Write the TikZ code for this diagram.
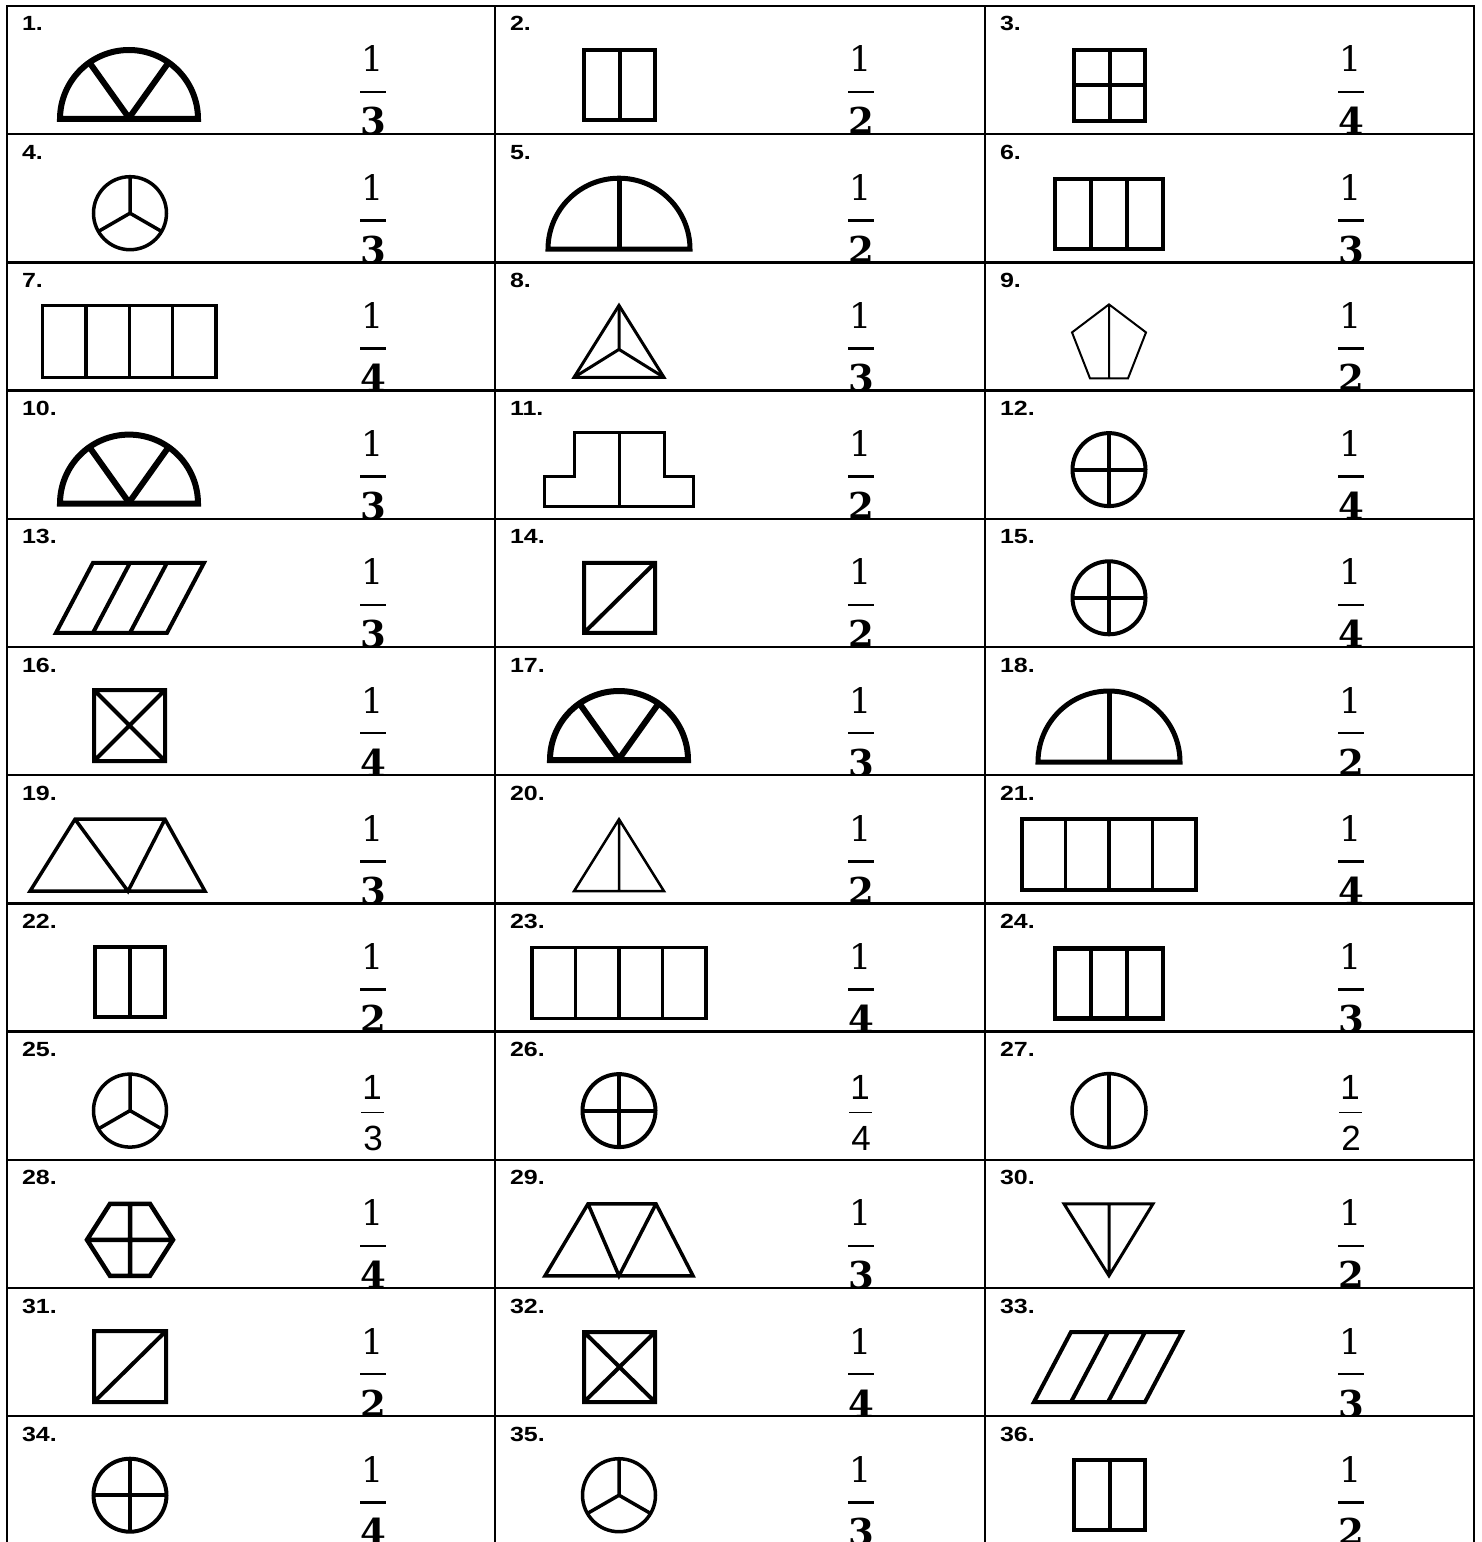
\documentclass[tikz,border=0pt]{standalone}
\usepackage{fontspec}
\setmainfont{Liberation Sans}
\newfontfamily\fracfont{DejaVu Serif}
\tikzset{
  x=1bp, y=-1bp,
  every node/.style={inner sep=0pt, outer sep=0pt},
  lbl/.style={anchor=base west, xscale=1.22, font=\fontsize{20.5bp}{24bp}\selectfont\bfseries},
  numB/.style={anchor=base, font=\fontsize{35bp}{40bp}\selectfont\fracfont},
  denB/.style={anchor=base, font=\fontsize{37bp}{40bp}\selectfont\fracfont\bfseries},
  numA/.style={anchor=base, font=\fontsize{35bp}{40bp}\selectfont},
  gridline/.style={line width=2.5bp, line cap=rect},
}
% ---------- shapes (cell-relative coordinates) ----------
\newcommand\SemiV[2]{\begin{scope}[shift={(#1,#2)}]
  \draw[line width=6bp] (-69,0) arc[start angle=180,end angle=360,radius=69] -- cycle;
  \draw[line width=6bp, line join=bevel] (-125:69) -- (0,-1) -- (-55:69);
\end{scope}}
\newcommand\SemiL[3]{\begin{scope}[shift={(#1,#2)}]
  \draw[line width=5bp] (-#3,0) arc[start angle=180,end angle=360,radius=#3] -- cycle;
  \draw[line width=5bp] (0,0) -- (0,-#3);
\end{scope}}
\newcommand\RectD[6]{\draw[line width=#5bp] (#1,#2) rectangle (#3,#4);
  \foreach \xx in {#6} \draw[line width=#5bp] (\xx,#2) -- (\xx,#4);}
\newcommand\GridF{\draw[line width=4bp] (89,44) rectangle (160,115)
  (124.5,44) -- (124.5,115) (89,79.5) -- (160,79.5);}
\newcommand\CircY[3]{\begin{scope}[shift={(#1,#2)}]
  \draw[line width=3.5bp] (0,0) circle[radius=#3];
  \draw[line width=3.5bp] (0,0) -- (-90:#3) (0,0) -- (150:#3) (0,0) -- (30:#3);
\end{scope}}
\newcommand\CircP[3]{\begin{scope}[shift={(#1,#2)}]
  \draw[line width=4bp] (0,0) circle[radius=#3];
  \draw[line width=4bp] (-#3,0) -- (#3,0) (0,-#3) -- (0,#3);
\end{scope}}
\newcommand\CircI[3]{\begin{scope}[shift={(#1,#2)}]
  \draw[line width=3.5bp] (0,0) circle[radius=#3];
  \draw[line width=3.5bp] (0,-#3) -- (0,#3);
\end{scope}}
\newcommand\TriC{\draw[line width=3bp] (124,43) -- (169,115) -- (79,115) -- cycle;
  \draw[line width=3bp] (124,43) -- (124,87) (79,115) -- (124,87) -- (169,115);}
\newcommand\Pent{\draw[line width=2bp] (124,42) -- (161,70) -- (143,116) -- (105,116) -- (87,70) -- cycle
  (124,42) -- (124,116);}
\newcommand\StepS{\draw[line width=3bp] (79,42) -- (169,42) -- (169,86) -- (198,86) -- (198,116)
  -- (49,116) -- (49,86) -- (79,86) -- cycle (124,42) -- (124,116);}
\newcommand\Para{\draw[line width=4bp] (49,114) -- (86,44) -- (197,44) -- (160,114) -- cycle
  (86,114) -- (123,44) (123,114) -- (160,44);}
\newcommand\SqD[4]{\draw[line width=4bp] (#1,#2) rectangle (#3,#4) (#1,#4) -- (#3,#2);}
\newcommand\SqX[4]{\draw[line width=4bp] (#1,#2) rectangle (#3,#4) (#1,#4) -- (#3,#2) (#1,#2) -- (#3,#4);}
% trapezoid of three triangles: bottom-left, top-left, top-right, bottom-right, bottom-middle x
\newcommand\Trap[5]{\draw[line width=3.5bp] (#1,116) -- (#2,44) -- (#3,44) -- (#4,116) -- cycle
  (#2,44) -- (#5,116) -- (#3,44);}
\newcommand\TriV{\draw[line width=2.5bp] (124,44) -- (169,116) -- (79,116) -- cycle (124,44) -- (124,116);}
\newcommand\Hex{\draw[line width=4.5bp] (103,44) -- (143,44) -- (166,80) -- (143,116) -- (103,116) -- (80,80) -- cycle
  (123,44) -- (123,116) (80,80) -- (166,80);}
\newcommand\TriInv{\draw[line width=3bp] (79,44) -- (168,44) -- (124,116) -- cycle (124,44) -- (124,116);}
% ---------- fractions ----------
\newcommand\FracB[2]{%
  \node[numB] (num#1) at (366,66) {1};
  \fill (353,84.7) rectangle (379,87.4);
  \node[denB] (den#1) at (366,129) {#2};}
\newcommand\FracA[2]{%
  \node[numA] (num#1) at (365,68) {1};
  \fill (354,80.2) rectangle (377,81.4);
  \node[numA] (den#1) at (366,119) {#2};}
% ---------- one cell ----------
\newcommand\Cell[6]{%
  \begin{scope}[shift={(#1,#2)}]
    \begin{scope}
      \clip (0,0) rectangle (490,128.2);
      \node[lbl] (lab#3) at (15,25) {#3.};
      #4
      #5{#3}{#6}
    \end{scope}
  \end{scope}}
\begin{document}
\begin{tikzpicture}
\useasboundingbox (0,0) rectangle (1482,1542);
\fill[white] (0,0) rectangle (1482,1542);
% row 1
\Cell{7}{6}{1}{\SemiV{122}{113}}{\FracB}{3}
\Cell{495}{6}{2}{\RectD{89}{44}{160}{114}{4}{124.5}}{\FracB}{2}
\Cell{985}{6}{3}{\GridF}{\FracB}{4}
% row 2
\Cell{7}{134.2}{4}{\CircY{123}{79}{36.5}}{\FracB}{3}
\Cell{495}{134.2}{5}{\SemiL{124}{115}{71}}{\FracB}{2}
\Cell{985}{134.2}{6}{\RectD{70}{45}{178}{115}{4.5}{106,142}}{\FracB}{3}
% row 3
\Cell{7}{262.4}{7}{\RectD{35.5}{43}{209}{115}{3.5}{78.9,122.3,165.6}}{\FracB}{4}
\Cell{495}{262.4}{8}{\TriC}{\FracB}{3}
\Cell{985}{262.4}{9}{\Pent}{\FracB}{2}
% row 4
\Cell{7}{390.6}{10}{\SemiV{122}{113}}{\FracB}{3}
\Cell{495}{390.6}{11}{\StepS}{\FracB}{2}
\Cell{985}{390.6}{12}{\CircP{124}{79}{36.5}}{\FracB}{4}
% row 5
\Cell{7}{518.8}{13}{\Para}{\FracB}{3}
\Cell{495}{518.8}{14}{\SqD{89}{44}{160}{114}}{\FracB}{2}
\Cell{985}{518.8}{15}{\CircP{124}{79}{36.5}}{\FracB}{4}
% row 6
\Cell{7}{647}{16}{\SqX{87}{43}{158}{114}}{\FracB}{4}
\Cell{495}{647}{17}{\SemiV{124}{113}}{\FracB}{3}
\Cell{985}{647}{18}{\SemiL{124}{115}{71}}{\FracB}{2}
% row 7
\Cell{7}{775.2}{19}{\Trap{23}{68}{158}{198}{121}}{\FracB}{3}
\Cell{495}{775.2}{20}{\TriV}{\FracB}{2}
\Cell{985}{775.2}{21}{\RectD{37}{44}{211}{115}{3.5}{80.5,124,167.5}}{\FracB}{4}
% row 8
\Cell{7}{903.4}{22}{\RectD{88}{44}{158}{114}{4}{123}}{\FracB}{2}
\Cell{495}{903.4}{23}{\RectD{37}{44}{211}{115}{3.5}{80.5,124,167.5}}{\FracB}{4}
\Cell{985}{903.4}{24}{\RectD{70}{45}{178}{115}{4.5}{106,142}}{\FracB}{3}
% row 9
\Cell{7}{1031.6}{25}{\CircY{123}{79}{36.5}}{\FracA}{3}
\Cell{495}{1031.6}{26}{\CircP{124}{79}{36.5}}{\FracA}{4}
\Cell{985}{1031.6}{27}{\CircI{124}{79}{37}}{\FracA}{2}
% row 10
\Cell{7}{1159.8}{28}{\Hex}{\FracB}{4}
\Cell{495}{1159.8}{29}{\Trap{50}{93}{161}{198}{124}}{\FracB}{3}
\Cell{985}{1159.8}{30}{\TriInv}{\FracB}{2}
% row 11
\Cell{7}{1288}{31}{\SqD{87}{43}{159}{114}}{\FracB}{2}
\Cell{495}{1288}{32}{\SqX{89}{44}{160}{114}}{\FracB}{4}
\Cell{985}{1288}{33}{\Para}{\FracB}{3}
% row 12
\Cell{7}{1416.2}{34}{\CircP{123}{79}{36.5}}{\FracB}{4}
\Cell{495}{1416.2}{35}{\CircY{124}{79}{36.5}}{\FracB}{3}
\Cell{985}{1416.2}{36}{\RectD{89}{44}{160}{114}{4}{124.5}}{\FracB}{2}
% grid
\foreach \yy in {6,134.2,262.4,390.6,518.8,647,775.2,903.4,1031.6,1159.8,1288,1416.2}
  \draw[gridline] (7,\yy) -- (1474,\yy);
\foreach \xx in {7,495,985,1474}
  \draw[gridline] (\xx,6) -- (\xx,1542);
\end{tikzpicture}
\end{document}
